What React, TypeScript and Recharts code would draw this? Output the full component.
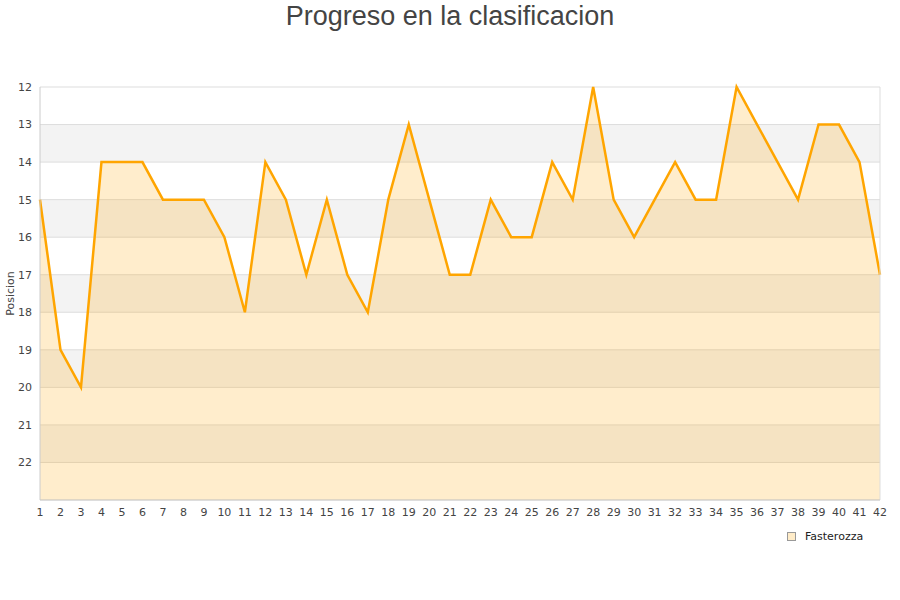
import React from 'react';
import { AreaChart, Area, XAxis, YAxis, CartesianGrid, ReferenceArea, ReferenceLine } from 'recharts';

const jornadas = [1, 2, 3, 4, 5, 6, 7, 8, 9, 10, 11, 12, 13, 14, 15, 16, 17, 18, 19, 20, 21, 22, 23, 24, 25, 26, 27, 28, 29, 30, 31, 32, 33, 34, 35, 36, 37, 38, 39, 40, 41, 42];
const posiciones = [15, 19, 20, 14, 14, 14, 15, 15, 15, 16, 18, 14, 15, 17, 15, 17, 18, 15, 13, 15, 17, 17, 15, 16, 16, 14, 15, 12, 15, 16, 15, 14, 15, 15, 12, 13, 14, 15, 13, 13, 14, 17];
const yTicks = [12, 13, 14, 15, 16, 17, 18, 19, 20, 21, 22];
const bandas = [[13, 14], [15, 16], [17, 18], [19, 20], [21, 22]];
const equipo = 'Fasterozza';

const data = jornadas.map((j, i) => ({ jornada: j, posicion: posiciones[i] }));

const tickStyle = { fontSize: 11, fill: '#444', fontFamily: 'DejaVu Sans, sans-serif' };

const App = () => {
  return (
    <div style={{ position: 'absolute', left: 0, top: 0, width: 900, height: 600, background: '#fff' }}>
      <div style={{ position: 'absolute', top: 0, width: 900, textAlign: 'center', fontFamily: 'Liberation Sans, Arial, sans-serif', fontSize: 27, color: '#444', lineHeight: '32px' }}>
        Progreso en la clasificacion
      </div>
      <AreaChart width={900} height={600} data={data} margin={{ top: 87, right: 20, bottom: 70, left: 0 }}>
        {bandas.map(([a, b]) => (
          <ReferenceArea key={a} y1={a} y2={b} fill="#f3f3f3" fillOpacity={1} stroke="none" zIndex={-200} />
        ))}
        <CartesianGrid vertical={false} stroke="#dddddd" strokeDasharray="" />
        <XAxis
          dataKey="jornada"
          type="number"
          domain={[1, 42]}
          ticks={jornadas}
          interval={0}
          tickLine={false}
          axisLine={{ stroke: '#cccccc' }}
          tick={tickStyle}
        />
        <YAxis
          type="number"
          reversed
          domain={[12, 23]}
          ticks={yTicks}
          interval={0}
          width={40}
          tickLine={false}
          axisLine={{ stroke: '#cccccc' }}
          tick={tickStyle}
          label={{ value: 'Posicion', angle: -90, position: 'insideLeft', offset: 10, style: { ...tickStyle, textAnchor: 'middle' } }}
        />
        <ReferenceLine x={42} stroke="#dddddd" />
        <Area
          type="linear"
          dataKey="posicion"
          name={equipo}
          baseValue={23}
          stroke="#ffa500"
          strokeWidth={2.5}
          fill="#ffa500"
          fillOpacity={0.2}
          dot={false}
          activeDot={false}
          isAnimationActive={false}
        />
      </AreaChart>
      <div style={{ position: 'absolute', left: 787, top: 530, display: 'flex', alignItems: 'center', fontFamily: 'DejaVu Sans, sans-serif', fontSize: 11, color: '#222' }}>
        <span style={{ display: 'inline-block', width: 7, height: 7, background: '#ffecc8', border: '1px solid #999', marginRight: 9 }} />
        {equipo}
      </div>
    </div>
  );
};

export default App;
